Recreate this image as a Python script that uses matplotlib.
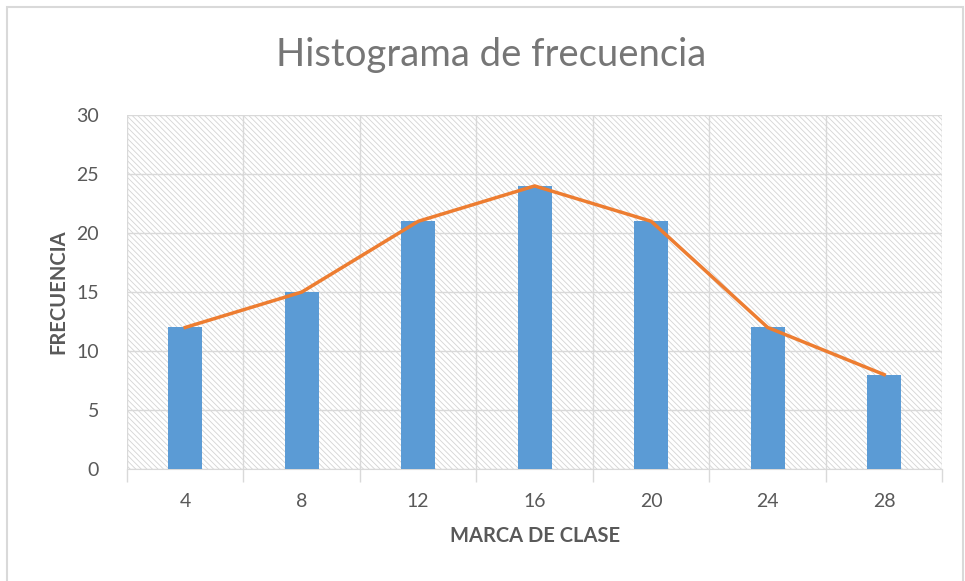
import matplotlib
matplotlib.use("Agg")
import matplotlib.pyplot as plt
from matplotlib.patches import Rectangle

# data
clases = ["4", "8", "12", "16", "20", "24", "28"]
frecuencia = [12, 15, 21, 24, 21, 12, 8]

plt.rcParams["font.family"] = ["Lato", "DejaVu Sans"]
plt.rcParams["hatch.color"] = "#d4d4d4"
plt.rcParams["hatch.linewidth"] = 0.6

fig = plt.figure(figsize=(9.65, 5.81), dpi=100)
ax = fig.add_axes([0.1316, 0.1928, 0.845, 0.609])

# hatched plot area background
ax.patch.set_facecolor("white")
ax.add_patch(Rectangle((0, 0), 1, 1, transform=ax.transAxes, facecolor="white",
                       edgecolor="#d4d4d4", hatch="\\\\\\\\\\\\", linewidth=0, zorder=0))

x = list(range(len(clases)))
ax.bar(x, frecuencia, width=0.29, color="#5B9BD5", zorder=3)
ax.plot(x, frecuencia, color="#ED7D31", linewidth=2.5, zorder=4)

ax.set_xlim(-0.5, len(clases) - 0.5)
ax.set_ylim(0, 30)
ax.set_yticks(range(0, 31, 5))
ax.set_xticks(x)
ax.set_xticklabels(clases)
ax.set_xticks([i - 0.5 for i in range(len(clases) + 1)], minor=True)

ax.grid(axis="y", color="#d9d9d9", linewidth=1, zorder=1)
ax.grid(axis="x", which="minor", color="#d9d9d9", linewidth=1, zorder=1)
ax.tick_params(axis="x", which="major", length=0, labelsize=14, labelcolor="#595959", pad=17)
ax.tick_params(axis="x", which="minor", length=9, color="#d9d9d9", width=1)
ax.tick_params(axis="y", length=0, labelsize=14, labelcolor="#595959", pad=20)

for s in ["top", "right", "left"]:
    ax.spines[s].set_visible(False)
ax.spines["bottom"].set_color("#d9d9d9")

ax.set_xlabel("MARCA DE CLASE", fontsize=14.5, fontweight="bold", color="#595959", labelpad=12)
ax.set_ylabel("FRECUENCIA", fontsize=14.5, fontweight="bold", color="#595959", labelpad=6)

fig.text(0.509, 0.905, "Histograma de frecuencia", ha="center", va="center",
         fontsize=27.5, color="#767676")

# chart frame
fig.patches.append(Rectangle((7 / 965, -0.01), 956 / 965, 1 - 7 / 581 + 0.01,
                             transform=fig.transFigure, fill=False,
                             edgecolor="#d9d9d9", linewidth=1.5))

fig.savefig("out.png", dpi=100)
